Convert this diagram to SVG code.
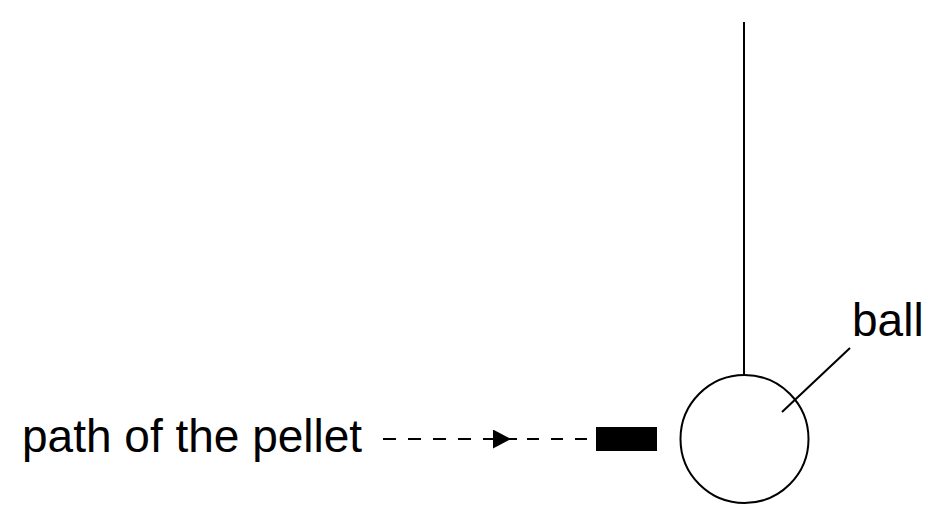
<svg xmlns="http://www.w3.org/2000/svg" width="944" height="527" viewBox="0 0 944 527">
<style>
.ln{stroke:#000;stroke-width:2;fill:none}
.lbl{font-family:"Liberation Sans",Arial,sans-serif;font-size:46px;fill:#000}
</style>
<defs>
<marker id="tri" viewBox="0 0 18 19" refX="18" refY="9.5" markerWidth="18" markerHeight="19" markerUnits="userSpaceOnUse" orient="auto">
<path d="M0,0 L18,9.5 L0,19 Z" fill="#000"/>
</marker>
</defs>
<rect width="944" height="527" fill="#fff"/>
<g id="string">
<line class="ln" x1="744" y1="22" x2="744" y2="375"/>
</g>
<g id="ball">
<circle class="ln" cx="744.5" cy="439" r="64"/>
</g>
<g id="pellet">
<rect x="596" y="427" width="61" height="24" fill="#000"/>
</g>
<g id="connectors">
<line class="ln" x1="383" y1="439" x2="511" y2="439" stroke-dasharray="13 12" marker-end="url(#tri)"/>
<line class="ln" x1="511" y1="439" x2="590" y2="439" stroke-dasharray="6 10 12 12 12 12 12 100"/>
<line class="ln" x1="782" y1="412" x2="850" y2="348"/>
</g>
<g id="labels">
<text class="lbl" x="22" y="452">path of the pellet</text>
<text class="lbl" x="852" y="336">ball</text>
</g>
</svg>
